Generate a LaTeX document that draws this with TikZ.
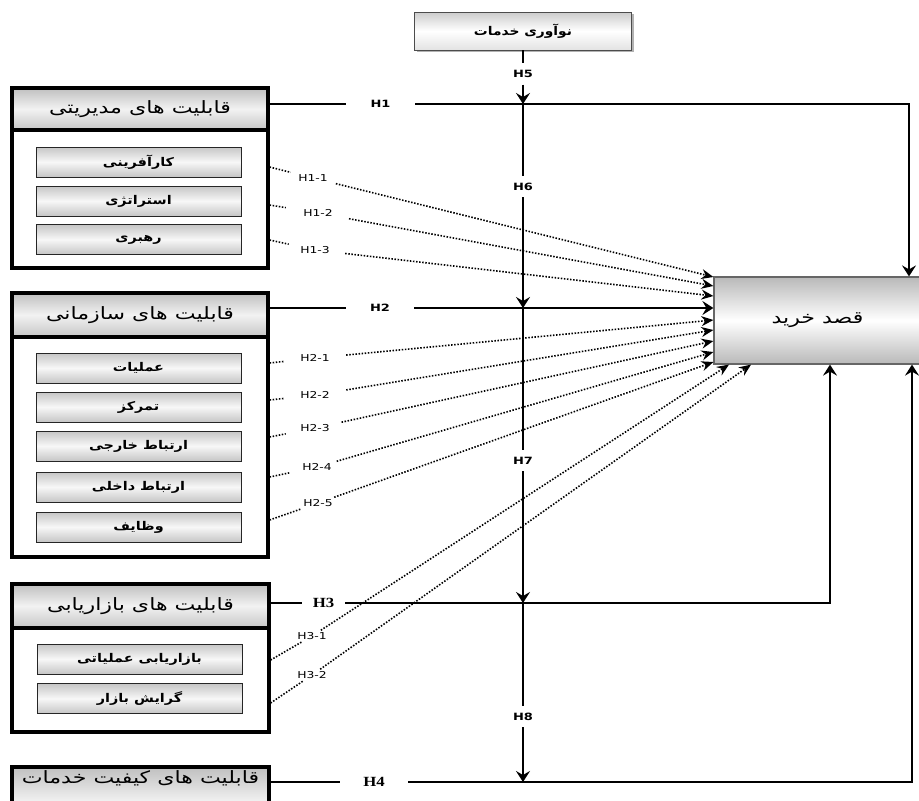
\documentclass[tikz,border=0pt]{standalone}
\usepackage{fontspec}
\usetikzlibrary{arrows.meta,shadows}
\TeXXeTstate=1
\newfontfamily\fa[Script=Arabic, FakeStretch=1.3]{DejaVu Sans}
\newfontfamily\fasub[Script=Arabic, FakeStretch=1.2]{DejaVu Sans}
\newfontfamily\fatop[Script=Arabic, FakeStretch=1.15]{DejaVu Sans}
\newfontfamily\lblfont[FakeStretch=1.3]{DejaVu Sans}
\newfontfamily\serifb[FakeStretch=1.2]{Liberation Serif}
\newcommand\fatxt[1]{\beginR #1\endR}

\tikzset{
  outerbox/.style={draw=black, line width=3.2pt, fill=white, inner sep=0pt},
  headbox/.style={draw=black, line width=3.2pt, inner sep=0pt,
    top color=gray!50, bottom color=gray!45, middle color=gray!10,
    font=\fa\fontsize{17}{19}\selectfont},
  subbox/.style={draw=black!85, line width=0.9pt, inner sep=0pt,
    minimum width=205pt, minimum height=30pt,
    top color=gray!45, bottom color=gray!45, middle color=gray!6,
    font=\fasub\bfseries\fontsize{12}{14}\selectfont},
  topbox/.style={draw=black!70, line width=0.9pt, inner sep=0pt,
    minimum width=217pt, minimum height=38pt,
    top color=gray!40, bottom color=gray!22, middle color=white,
    drop shadow={shadow xshift=2pt, shadow yshift=-2pt, fill=black!60},
    font=\fatop\bfseries\fontsize{12}{14}\selectfont},
  tgtbox/.style={draw=black!60, line width=1.2pt, inner sep=0pt,
    minimum width=207pt, minimum height=87pt,
    top color=gray!55, bottom color=gray!55, middle color=white,
    font=\fa\fontsize{17}{19}\selectfont},
  vlab/.style={font=\lblfont\bfseries\fontsize{10}{12}\selectfont,
    inner sep=0pt, minimum height=21pt, minimum width=20pt},
  hlab/.style={font=\lblfont\bfseries\fontsize{10}{12}\selectfont,
    inner sep=0pt, minimum height=12pt},
  slab/.style={font=\serifb\bfseries\fontsize{14}{16}\selectfont,
    inner sep=0pt, minimum height=14pt},
  dlab/.style={font=\lblfont\fontsize{9.5}{11}\selectfont,
    inner xsep=4pt, inner ysep=2pt},
  conn/.style={line width=2.3pt, black},
  arr/.style={-{Stealth[length=11pt, width=14pt, inset=4pt]}},
  dotseg/.style={line width=1.6pt, dash pattern=on 1.5pt off 1.6pt},
  dotln/.style={dotseg, -{Stealth[length=12pt, width=10pt, inset=4pt]}},
}

\begin{document}
\begin{tikzpicture}[x=1pt, y=-1pt]
\useasboundingbox (0,0) rectangle (919,801);

% ---- service innovation and purchase intention ----
\node[topbox] (svc) at (523,31) {\fatxt{نوآوری خدمات}};
\node[tgtbox] (tgt) at (817.5,320.5) {\fatxt{قصد خرید}};

% ---- managerial capabilities ----
\node[outerbox, minimum width=256pt, minimum height=180pt] (m1) at (140,178) {};
\node[headbox, minimum width=256pt, minimum height=42pt] (m1h) at (140,109) {\fatxt{قابلیت های مدیریتی}};
\node[subbox] (m1a) at (138.5,162) {\fatxt{کارآفرینی}};
\node[subbox] (m1b) at (138.5,201) {\fatxt{استراتژی}};
\node[subbox] (m1c) at (138.5,239.5) {\fatxt{رهبری}};

% ---- organisational capabilities ----
\node[outerbox, minimum width=256pt, minimum height=264pt] (m2) at (140,425) {};
\node[headbox, minimum width=256pt, minimum height=44pt] (m2h) at (140,315) {\fatxt{قابلیت های سازمانی}};
\node[subbox] (m2a) at (138.5,368) {\fatxt{عملیات}};
\node[subbox] (m2b) at (138.5,407) {\fatxt{تمرکز}};
\node[subbox] (m2c) at (138.5,446) {\fatxt{ارتباط خارجی}};
\node[subbox] (m2d) at (138.5,487) {\fatxt{ارتباط داخلی}};
\node[subbox] (m2e) at (138.5,527) {\fatxt{وظایف}};

% ---- marketing capabilities ----
\node[outerbox, minimum width=257pt, minimum height=148pt] (m3) at (140.5,658) {};
\node[headbox, minimum width=257pt, minimum height=44pt] (m3h) at (140.5,606) {\fatxt{قابلیت های بازاریابی}};
\node[subbox] (m3a) at (139.5,659) {\fatxt{بازاریابی عملیاتی}};
\node[subbox] (m3b) at (139.5,698.5) {\fatxt{گرایش بازار}};

% ---- service quality capabilities ----
\node[headbox, minimum width=257pt, minimum height=70pt] (m4h) at (140.5,802) {};
\node[font=\fa\fontsize{17}{19}\selectfont, inner sep=0pt] (m4t) at (140.5,778) {\fatxt{قابلیت های کیفیت خدمات}};

% ---- central moderator line ----
\coordinate (j1) at (523,104);
\coordinate (j2) at (523,308);
\coordinate (j3) at (523,603);
\coordinate (j4) at (523,782);
\node[vlab] (h5) at (523,74) {H5};
\node[vlab] (h6) at (523,186.5) {H6};
\node[vlab] (h7) at (523,460.5) {H7};
\node[vlab] (h8) at (523,716.5) {H8};
\draw[conn] (svc.south -| j1) -- (h5);
\draw[conn, arr] (h5) -- (j1);
\draw[conn] (j1) -- (h6);
\draw[conn, arr] (h6) -- (j2);
\draw[conn] (j2) -- (h7);
\draw[conn, arr] (h7) -- (j3);
\draw[conn] (j3) -- (h8);
\draw[conn, arr] (h8) -- (j4);

% ---- main hypotheses ----
\coordinate (c1) at (909,104);
\coordinate (c3) at (830,603);
\coordinate (c4) at (912,782);
\node[hlab, minimum width=69pt] (h1) at (380.5,104) {H1};
\node[hlab, minimum width=68pt] (h2) at (380,308) {H2};
\node[slab, minimum width=43pt] (h3) at (323.5,603) {H3};
\node[slab, minimum width=68pt] (h4) at (374,782) {H4};
\draw[conn] (m1h.east |- j1) -- (h1);
\draw[conn, arr] (h1) -| (tgt.north -| c1);
\draw[conn] (m2h.east |- j2) -- (h2);
\draw[conn, arr] (h2) -- (tgt.west |- j2);
\draw[conn] (m3h.east |- j3) -- (h3);
\draw[conn, arr] (h3) -| (tgt.south -| c3);
\draw[conn] (m4h.east |- j4) -- (h4);
\draw[conn, arr] (h4) -| (tgt.south -| c4);

% ---- sub-hypotheses (dotted) ----
\node[dlab, minimum width=58pt] (l11) at (313,178) {H1-1};
\node[dlab, minimum width=64pt] (l12) at (318,213) {H1-2};
\node[dlab, minimum width=60pt] (l13) at (315,250) {H1-3};
\node[dlab, minimum width=62pt] (l21) at (315,358) {H2-1};
\node[dlab, minimum width=62pt] (l22) at (315,395) {H2-2};
\node[dlab, minimum width=62pt] (l23) at (315,428) {H2-3};
\node[dlab, minimum width=60pt] (l24) at (317,467) {H2-4};
\node[dlab] (l25) at (318,503) {H2-5};
\node[dlab] (l31) at (312,636) {H3-1};
\node[dlab] (l32) at (312,675) {H3-2};

\draw[dotseg] (m1.east |- 0,167) -- (l11);
\draw[dotln] (l11) -- (tgt.west |- 0,277);
\draw[dotseg] (m1.east |- 0,205) -- (l12);
\draw[dotln] (l12) -- (tgt.west |- 0,286);
\draw[dotseg] (m1.east |- 0,240) -- (l13);
\draw[dotln] (l13) -- (tgt.west |- 0,296);

\draw[dotseg] (m2.east |- 0,363) -- (l21);
\draw[dotln] (l21) -- (tgt.west |- 0,320);
\draw[dotseg] (m2.east |- 0,400) -- (l22);
\draw[dotln] (l22) -- (tgt.west |- 0,330);
\draw[dotseg] (m2.east |- 0,437) -- (l23);
\draw[dotln] (l23) -- (tgt.west |- 0,341);
\draw[dotseg] (m2.east |- 0,477) -- (l24);
\draw[dotln] (l24) -- (tgt.west |- 0,352);
\draw[dotseg] (m2.east |- 0,520) -- (l25);
\draw[dotln] (l25) -- (tgt.west |- 0,362);

\draw[dotseg] (m3.east |- 0,660) -- (l31);
\draw[dotln] (l31) -- (729,0 |- tgt.south);
\draw[dotseg] (m3.east |- 0,703) -- (l32);
\draw[dotln] (l32) -- (751,0 |- tgt.south);
\end{tikzpicture}
\end{document}
